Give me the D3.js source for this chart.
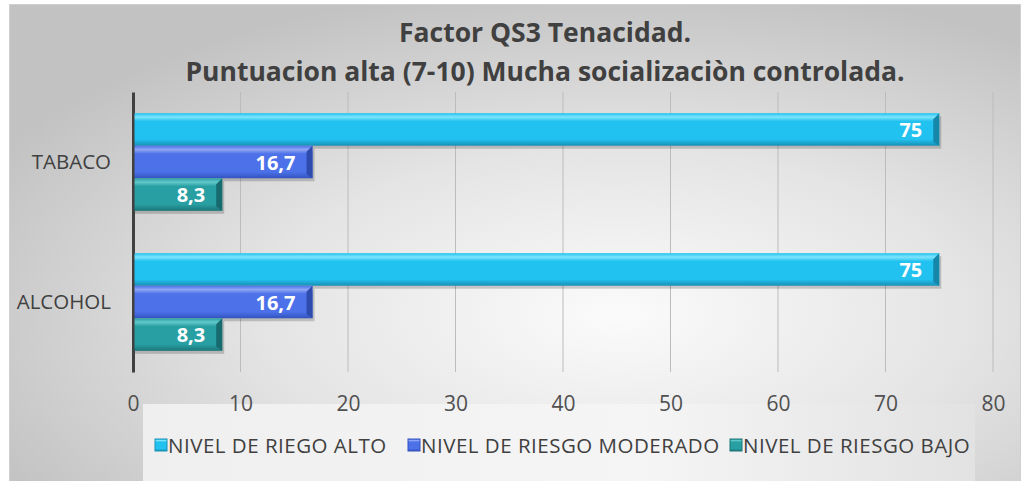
<!DOCTYPE html>
<html>
<head>
<meta charset="utf-8">
<script src="https://cdn.jsdelivr.net/npm/d3@7"></script>
<style>
  body { margin: 0; background: #fff; }
  text { font-family: "Open Sans", "Noto Sans", sans-serif; }
</style>
</head>
<body>
<div id="chart"></div>
<script>
// data
var categories = ["TABACO", "ALCOHOL"]
var series = ["NIVEL DE RIEGO ALTO", "NIVEL DE RIESGO MODERADO", "NIVEL DE RIESGO BAJO"]
var alto = [75, 75]
var moderado = [16.7, 16.7]
var bajo = [8.3, 8.3]
var xTicks = [0, 10, 20, 30, 40, 50, 60, 70, 80]
var titleLines = ["Factor QS3 Tenacidad.", "Puntuacion alta (7-10) Mucha socializaciòn controlada."]

var width = 1022, height = 481
var margin = {top: 92, right: 29, bottom: 109, left: 133}

var palette = {
  "NIVEL DE RIEGO ALTO":      {main: "#22c2f0", hi: "#7ee4fc", lo: "#1690b6", end: "#1487ab"},
  "NIVEL DE RIESGO MODERADO": {main: "#4c71e9", hi: "#8fa6f4", lo: "#3353bf", end: "#2e4cae"},
  "NIVEL DE RIESGO BAJO":     {main: "#289fa3", hi: "#62c8ca", lo: "#1b7679", end: "#176b6e"}
}

var rows = categories.map(function(c, i) {
  return {cat: c, values: [
    {key: series[0], value: alto[i]},
    {key: series[1], value: moderado[i]},
    {key: series[2], value: bajo[i]}
  ]}
})

var svg = d3.select("#chart").append("svg")
  .attr("width", width)
  .attr("height", height)

var defs = svg.append("defs")

// chart area background
var bg = defs.append("radialGradient").attr("id", "bg")
  .attr("cx", "0.6").attr("cy", "0.65").attr("r", "0.7")
bg.append("stop").attr("offset", "0%").attr("stop-color", "#fbfbfb")
bg.append("stop").attr("offset", "50%").attr("stop-color", "#e4e4e4")
bg.append("stop").attr("offset", "100%").attr("stop-color", "#c2c2c2")

var lg = defs.append("linearGradient").attr("id", "legbg")
  .attr("x1", "0").attr("x2", "1").attr("y1", "0").attr("y2", "0")
lg.append("stop").attr("offset", "0%").attr("stop-color", "#efefef")
lg.append("stop").attr("offset", "60%").attr("stop-color", "#f5f5f5")
lg.append("stop").attr("offset", "100%").attr("stop-color", "#e2e2e2")

series.forEach(function(s, i) {
  var p = palette[s]
  var g = defs.append("linearGradient").attr("id", "bar" + i)
    .attr("x1", "0").attr("x2", "0").attr("y1", "0").attr("y2", "1")
  g.append("stop").attr("offset", "0%").attr("stop-color", p.main)
  g.append("stop").attr("offset", "12%").attr("stop-color", p.hi)
  g.append("stop").attr("offset", "25%").attr("stop-color", p.main)
  g.append("stop").attr("offset", "80%").attr("stop-color", p.main)
  g.append("stop").attr("offset", "100%").attr("stop-color", p.lo)
})

svg.append("rect")
  .attr("x", 9.5).attr("y", 4.5)
  .attr("width", width - 11).attr("height", height - 4)
  .attr("fill", "url(#bg)")
  .attr("stroke", "#d0d0d0")

var x = d3.scaleLinear()
  .domain([0, 80])
  .range([margin.left, width - margin.right])

var y = d3.scaleBand()
  .domain(categories)
  .range([margin.top, height - margin.bottom])

var ySub = d3.scaleBand()
  .domain(series)
  .range([0, y.bandwidth()])
  .paddingOuter(0.65)

// title
svg.append("g").selectAll("text")
  .data(titleLines)
  .enter().append("text")
    .attr("x", 545)
    .attr("y", function(d, i) { return 42 + i * 39 })
    .attr("text-anchor", "middle")
    .attr("font-size", 26.5)
    .attr("font-weight", "bold")
    .attr("fill", "#404040")
    .text(function(d) { return d })

// gridlines
svg.append("g").selectAll("line")
  .data(xTicks.slice(1))
  .enter().append("line")
    .attr("x1", function(d) { return x(d) })
    .attr("x2", function(d) { return x(d) })
    .attr("y1", margin.top)
    .attr("y2", height - margin.bottom)
    .attr("stroke", "#bcbcbc")
    .attr("stroke-width", 1)

// legend box sits behind the tick labels
svg.append("rect")
  .attr("x", 143).attr("y", 404)
  .attr("width", 832).attr("height", 77)
  .attr("fill", "url(#legbg)")

// x axis labels
var xAxis = svg.append("g")
  .attr("transform", "translate(0," + (height - margin.bottom) + ")")
  .call(d3.axisBottom(x).tickValues(xTicks).tickSize(0).tickPadding(24))
xAxis.select(".domain").remove()
xAxis.selectAll("text")
  .attr("font-size", 21)
  .attr("fill", "#505050")
  .style("font-family", "'Open Sans', sans-serif")

// y axis
var yAxis = svg.append("g")
  .attr("transform", "translate(" + margin.left + ",0)")
  .call(d3.axisLeft(y).tickSize(0).tickPadding(22))
yAxis.select(".domain")
  .attr("stroke", "#404040")
  .attr("stroke-width", 3)
yAxis.selectAll("text")
  .attr("font-size", 20.5)
  .attr("fill", "#404040")
  .style("font-family", "'Open Sans', sans-serif")

// bars
var group = svg.append("g").selectAll("g")
  .data(rows)
  .enter().append("g")
    .attr("transform", function(d) { return "translate(0," + y(d.cat) + ")" })

var bar = group.selectAll("g")
  .data(function(d) { return d.values })
  .enter().append("g")

// shadow
bar.append("rect")
  .attr("x", x(0) + 2)
  .attr("y", function(d) { return ySub(d.key) + 3 })
  .attr("width", function(d) { return x(d.value) - x(0) })
  .attr("height", ySub.bandwidth())
  .attr("fill", "#000")
  .attr("opacity", 0.18)

bar.append("rect")
  .attr("x", x(0) + 1.5)
  .attr("y", function(d) { return ySub(d.key) })
  .attr("width", function(d) { return x(d.value) - x(0) - 1.5 })
  .attr("height", ySub.bandwidth())
  .attr("fill", function(d) { return "url(#bar" + series.indexOf(d.key) + ")" })

// bevelled end
bar.append("path")
  .attr("d", function(d) {
    var x1 = x(d.value), y0 = ySub(d.key), h = ySub.bandwidth(), b = 6
    return "M" + (x1 - b) + "," + (y0 + b) + "L" + x1 + "," + y0 + "L" + x1 + "," + (y0 + h) +
      "L" + (x1 - b) + "," + (y0 + h - 4) + "Z"
  })
  .attr("fill", function(d) { return palette[d.key].end })

bar.append("text")
  .attr("x", function(d) { return x(d.value) - 17 })
  .attr("y", function(d) { return ySub(d.key) + ySub.bandwidth() / 2 + 7.5 })
  .attr("text-anchor", "end")
  .attr("font-size", 20)
  .attr("font-weight", "bold")
  .attr("fill", "#fff")
  .text(function(d) { return String(d.value).replace(".", ",") })

// legend
var legX = [155, 408, 730]
var leg = svg.append("g").selectAll("g")
  .data(series)
  .enter().append("g")
    .attr("transform", function(d, i) { return "translate(" + legX[i] + ",439)" })

leg.append("rect")
  .attr("width", 12).attr("height", 12)
  .attr("fill", function(d, i) { return "url(#bar" + i + ")" })
  .attr("stroke", function(d) { return palette[d].lo })
  .attr("stroke-width", 1)

leg.append("text")
  .attr("x", 13)
  .attr("y", 13.5)
  .attr("font-size", 20.5)
  .attr("letter-spacing", 0.5)
  .attr("fill", "#404040")
  .text(function(d) { return d })
</script>
</body>
</html>
